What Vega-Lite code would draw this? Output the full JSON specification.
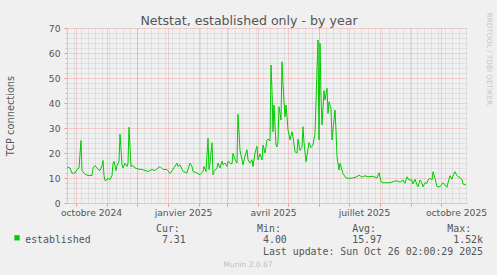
{
  "$schema": "https://vega.github.io/schema/vega-lite/v6.json",
  "width": 400,
  "height": 175,
  "autosize": {"type": "none"},
  "padding": {"left": 67, "top": 28, "right": 30, "bottom": 72},
  "background": "#f0f0f0",
  "config": {"view": {"stroke": null}, "font": "DejaVu Sans"},
  "data": {"values": [
    {"date": "2024-09-22", "value": 14.5}, {"date": "2024-09-25", "value": 14}, {"date": "2024-09-27", "value": 11.9}, {"date": "2024-09-30", "value": 12},
    {"date": "2024-10-02", "value": 13.4}, {"date": "2024-10-04", "value": 14}, {"date": "2024-10-06", "value": 25}, {"date": "2024-10-07", "value": 13},
    {"date": "2024-10-10", "value": 11.5}, {"date": "2024-10-13", "value": 11}, {"date": "2024-10-17", "value": 11}, {"date": "2024-10-18", "value": 14},
    {"date": "2024-10-20", "value": 15}, {"date": "2024-10-23", "value": 13.5}, {"date": "2024-10-25", "value": 13}, {"date": "2024-10-27", "value": 15},
    {"date": "2024-10-28", "value": 17}, {"date": "2024-10-29", "value": 11}, {"date": "2024-10-30", "value": 9}, {"date": "2024-11-01", "value": 9.3},
    {"date": "2024-11-02", "value": 10}, {"date": "2024-11-04", "value": 9.3}, {"date": "2024-11-06", "value": 11}, {"date": "2024-11-07", "value": 15.9},
    {"date": "2024-11-08", "value": 16.7}, {"date": "2024-11-10", "value": 13}, {"date": "2024-11-11", "value": 15}, {"date": "2024-11-13", "value": 16.7},
    {"date": "2024-11-14", "value": 27.6}, {"date": "2024-11-16", "value": 15.3}, {"date": "2024-11-17", "value": 14}, {"date": "2024-11-19", "value": 15.9},
    {"date": "2024-11-21", "value": 14.6}, {"date": "2024-11-22", "value": 16}, {"date": "2024-11-23", "value": 30.3}, {"date": "2024-11-25", "value": 14.6},
    {"date": "2024-11-27", "value": 15}, {"date": "2024-11-29", "value": 14}, {"date": "2024-12-02", "value": 13.6}, {"date": "2024-12-06", "value": 13.4},
    {"date": "2024-12-09", "value": 13}, {"date": "2024-12-12", "value": 12.6}, {"date": "2024-12-16", "value": 13.4}, {"date": "2024-12-19", "value": 13},
    {"date": "2024-12-22", "value": 14}, {"date": "2024-12-24", "value": 14.6}, {"date": "2024-12-27", "value": 13.4}, {"date": "2024-12-31", "value": 13.4},
    {"date": "2025-01-03", "value": 11.8}, {"date": "2025-01-06", "value": 13.4}, {"date": "2025-01-10", "value": 16}, {"date": "2025-01-11", "value": 14.6},
    {"date": "2025-01-13", "value": 15.3}, {"date": "2025-01-16", "value": 12.6}, {"date": "2025-01-20", "value": 12}, {"date": "2025-01-23", "value": 16},
    {"date": "2025-01-25", "value": 14.6}, {"date": "2025-01-26", "value": 12.6}, {"date": "2025-01-30", "value": 12}, {"date": "2025-02-02", "value": 11.3},
    {"date": "2025-02-05", "value": 12.6}, {"date": "2025-02-06", "value": 14.6}, {"date": "2025-02-08", "value": 12.6}, {"date": "2025-02-10", "value": 25.9},
    {"date": "2025-02-11", "value": 13.4}, {"date": "2025-02-12", "value": 16}, {"date": "2025-02-14", "value": 24.1}, {"date": "2025-02-15", "value": 11.3},
    {"date": "2025-02-16", "value": 12.6}, {"date": "2025-02-19", "value": 14}, {"date": "2025-02-20", "value": 16}, {"date": "2025-02-22", "value": 14},
    {"date": "2025-02-24", "value": 16.7}, {"date": "2025-02-25", "value": 15.3}, {"date": "2025-02-27", "value": 16}, {"date": "2025-03-01", "value": 14.6},
    {"date": "2025-03-02", "value": 16.7}, {"date": "2025-03-04", "value": 16}, {"date": "2025-03-06", "value": 15.6}, {"date": "2025-03-07", "value": 19.9},
    {"date": "2025-03-09", "value": 17.3}, {"date": "2025-03-11", "value": 16}, {"date": "2025-03-12", "value": 35.5}, {"date": "2025-03-14", "value": 21},
    {"date": "2025-03-16", "value": 17.3}, {"date": "2025-03-17", "value": 15.3}, {"date": "2025-03-19", "value": 18.7}, {"date": "2025-03-21", "value": 21.3},
    {"date": "2025-03-22", "value": 17.3}, {"date": "2025-03-24", "value": 16}, {"date": "2025-03-26", "value": 17.3}, {"date": "2025-03-27", "value": 14.6},
    {"date": "2025-03-29", "value": 20}, {"date": "2025-03-31", "value": 22.7}, {"date": "2025-04-01", "value": 17.3}, {"date": "2025-04-03", "value": 19.6},
    {"date": "2025-04-05", "value": 17.2}, {"date": "2025-04-06", "value": 23.2}, {"date": "2025-04-08", "value": 20}, {"date": "2025-04-10", "value": 25.2},
    {"date": "2025-04-11", "value": 25.6}, {"date": "2025-04-13", "value": 24.8}, {"date": "2025-04-14", "value": 55.2}, {"date": "2025-04-15", "value": 45},
    {"date": "2025-04-16", "value": 28.5}, {"date": "2025-04-17", "value": 39.2}, {"date": "2025-04-19", "value": 23.2}, {"date": "2025-04-20", "value": 22.4},
    {"date": "2025-04-21", "value": 24.7}, {"date": "2025-04-22", "value": 38.5}, {"date": "2025-04-24", "value": 33.2}, {"date": "2025-04-25", "value": 56.5},
    {"date": "2025-04-26", "value": 47.2}, {"date": "2025-04-28", "value": 34.5}, {"date": "2025-04-29", "value": 39.2}, {"date": "2025-04-30", "value": 34.5},
    {"date": "2025-05-01", "value": 29.2}, {"date": "2025-05-03", "value": 25.2}, {"date": "2025-05-05", "value": 28.5}, {"date": "2025-05-06", "value": 26.5},
    {"date": "2025-05-08", "value": 20.5}, {"date": "2025-05-10", "value": 20}, {"date": "2025-05-11", "value": 25.6}, {"date": "2025-05-13", "value": 21},
    {"date": "2025-05-15", "value": 22.2}, {"date": "2025-05-16", "value": 30.5}, {"date": "2025-05-17", "value": 24.2}, {"date": "2025-05-19", "value": 16.5},
    {"date": "2025-05-20", "value": 19}, {"date": "2025-05-22", "value": 24.2}, {"date": "2025-05-24", "value": 22.2}, {"date": "2025-05-26", "value": 23.2},
    {"date": "2025-05-27", "value": 25.6}, {"date": "2025-05-28", "value": 27.6}, {"date": "2025-05-30", "value": 53.2}, {"date": "2025-05-31", "value": 65.2},
    {"date": "2025-06-01", "value": 25.2}, {"date": "2025-06-02", "value": 63.9}, {"date": "2025-06-03", "value": 42.5}, {"date": "2025-06-04", "value": 31.2},
    {"date": "2025-06-06", "value": 45}, {"date": "2025-06-07", "value": 41.2}, {"date": "2025-06-09", "value": 45.9}, {"date": "2025-06-10", "value": 35.9},
    {"date": "2025-06-11", "value": 40.5}, {"date": "2025-06-13", "value": 37.9}, {"date": "2025-06-14", "value": 25.2}, {"date": "2025-06-15", "value": 29.2},
    {"date": "2025-06-17", "value": 37.2}, {"date": "2025-06-18", "value": 29.2}, {"date": "2025-06-19", "value": 18.5}, {"date": "2025-06-21", "value": 13.2},
    {"date": "2025-06-22", "value": 15.9}, {"date": "2025-06-23", "value": 14.5}, {"date": "2025-06-25", "value": 11.9}, {"date": "2025-06-27", "value": 10.5},
    {"date": "2025-06-29", "value": 9.9}, {"date": "2025-07-04", "value": 9.9}, {"date": "2025-07-09", "value": 10.5}, {"date": "2025-07-11", "value": 11.2},
    {"date": "2025-07-14", "value": 10.3}, {"date": "2025-07-17", "value": 10.9}, {"date": "2025-07-20", "value": 10.5}, {"date": "2025-07-25", "value": 10.7},
    {"date": "2025-07-29", "value": 10}, {"date": "2025-07-31", "value": 12.1}, {"date": "2025-08-02", "value": 8.5}, {"date": "2025-08-04", "value": 8.1},
    {"date": "2025-08-08", "value": 8.1}, {"date": "2025-08-11", "value": 8.1}, {"date": "2025-08-14", "value": 8.5}, {"date": "2025-08-18", "value": 8.9},
    {"date": "2025-08-21", "value": 8.3}, {"date": "2025-08-24", "value": 9.2}, {"date": "2025-08-26", "value": 7.9}, {"date": "2025-08-28", "value": 10.5},
    {"date": "2025-08-30", "value": 9.2}, {"date": "2025-09-02", "value": 9.2}, {"date": "2025-09-03", "value": 7.6}, {"date": "2025-09-05", "value": 9.5},
    {"date": "2025-09-07", "value": 7.2}, {"date": "2025-09-08", "value": 6.5}, {"date": "2025-09-10", "value": 9.2}, {"date": "2025-09-12", "value": 7.9},
    {"date": "2025-09-13", "value": 6.5}, {"date": "2025-09-15", "value": 8.1}, {"date": "2025-09-17", "value": 7.9}, {"date": "2025-09-18", "value": 9.2},
    {"date": "2025-09-20", "value": 9.9}, {"date": "2025-09-22", "value": 9.2}, {"date": "2025-09-23", "value": 12.5}, {"date": "2025-09-25", "value": 9.9},
    {"date": "2025-09-27", "value": 6.5}, {"date": "2025-09-30", "value": 6.5}, {"date": "2025-10-02", "value": 7.6}, {"date": "2025-10-03", "value": 8.1},
    {"date": "2025-10-05", "value": 7.2}, {"date": "2025-10-07", "value": 6.3}, {"date": "2025-10-08", "value": 8.1}, {"date": "2025-10-10", "value": 10.9},
    {"date": "2025-10-12", "value": 9.5}, {"date": "2025-10-13", "value": 10.9}, {"date": "2025-10-15", "value": 12.5}, {"date": "2025-10-17", "value": 10.9},
    {"date": "2025-10-18", "value": 10.5}, {"date": "2025-10-20", "value": 10.2}, {"date": "2025-10-22", "value": 9.2}, {"date": "2025-10-23", "value": 7.6},
    {"date": "2025-10-26", "value": 7.2}
  ]},
  "resolve": {"axis": {"x": "independent", "y": "independent"}},
  "layer": [
    {
      "mark": {"type": "line", "strokeOpacity": 0},
      "encoding": {
        "x": {"field": "date", "type": "temporal",
              "scale": {"domain": [{"year": 2024, "month": 9, "date": 22}, {"year": 2025, "month": 10, "date": 27}]},
              "axis": {"orient": "top", "tickCount": {"interval": "week", "step": 1}, "grid": true, "gridColor": "#000000", "gridOpacity": 0.13, "gridDash": [1, 1],
                       "ticks": false, "tickSize": 0, "labels": false, "domain": false,
                       "title": "Netstat, established only - by year", "titleFont": "DejaVu Sans", "titleFontSize": 12.6, "titleFontWeight": "normal", "titleColor": "#555555",
                       "titleX": 181.5, "titleY": -4, "titleAlign": "center", "titleBaseline": "alphabetic"}},
        "y": {"field": "value", "type": "quantitative", "scale": {"domain": [0, 70], "nice": false},
              "axis": {"orient": "left", "values": [2, 4, 6, 8, 12, 14, 16, 18, 22, 24, 26, 28, 32, 34, 36, 38, 42, 44, 46, 48, 52, 54, 56, 58, 62, 64, 66, 68],
                       "grid": true, "gridColor": "#000000", "gridOpacity": 0.13, "gridDash": [1, 1],
                       "ticks": true, "tickColor": "#c0c0c0", "tickSize": 2, "labels": false, "domain": false, "title": null}}
      }
    },
    {
      "mark": {"type": "line", "strokeWidth": 1, "interpolate": "linear"},
      "encoding": {
        "x": {"field": "date", "type": "temporal",
              "scale": {"domain": [{"year": 2024, "month": 9, "date": 22}, {"year": 2025, "month": 10, "date": 27}]},
              "axis": {"orient": "bottom", "tickCount": {"interval": "month", "step": 1}, "grid": true, "gridColor": "#ff0000", "gridOpacity": 0.3, "gridDash": [1, 1],
                       "ticks": true, "tickColor": "#f09090", "tickSize": 3, "labels": false, "domain": true, "domainColor": "#c8c8f0",
                       "title": "Munin 2.0.67", "titleFont": "DejaVu Sans", "titleFontSize": 7.5, "titleFontWeight": "normal", "titleColor": "#c0c0c0",
                       "titleX": 180.5, "titleY": 63.5, "titleAlign": "center", "titleBaseline": "alphabetic"}},
        "y": {"field": "value", "type": "quantitative", "scale": {"domain": [0, 70], "nice": false},
              "axis": {"orient": "left", "values": [0, 10, 20, 30, 40, 50, 60, 70], "grid": true, "gridColor": "#ff0000", "gridOpacity": 0.3, "gridDash": [1, 1],
                       "ticks": true, "tickColor": "#f09090", "tickSize": 3, "labels": true, "labelFont": "DejaVu Sans", "labelFontSize": 9.2, "labelColor": "#555555",
                       "labelPadding": 4, "labelBaseline": "middle", "domain": true, "domainColor": "#c8c8f0",
                       "title": "TCP connections", "titleFont": "DejaVu Sans", "titleFontSize": 9.8, "titleFontWeight": "normal", "titleColor": "#555555",
                       "titleAngle": -90, "titleX": -51.5, "titleY": 87.5, "titleAlign": "center", "titleBaseline": "bottom"}},
        "color": {"datum": "established", "type": "nominal", "scale": {"range": ["#00cc00"]},
                  "legend": {"orient": "none", "legendX": -53, "legendY": 206.8, "title": null, "symbolType": "square", "symbolSize": 28,
                             "labelExpr": "''", "labelFontSize": 1, "labelOffset": 0, "padding": 0,
                             "encode": {"symbols": {"update": {"fill": {"value": "#00cc00"}, "stroke": {"value": "#00cc00"}, "strokeWidth": {"value": 0}}}}}}
      }
    },
    {
      "mark": {"type": "line", "strokeOpacity": 0},
      "encoding": {
        "x": {"field": "date", "type": "temporal",
              "scale": {"domain": [{"year": 2024, "month": 9, "date": 22}, {"year": 2025, "month": 10, "date": 27}]},
              "axis": {"orient": "bottom",
                       "values": [{"year": 2024, "month": 10, "date": 16}, {"year": 2025, "month": 1, "date": 16}, {"year": 2025, "month": 4, "date": 16}, {"year": 2025, "month": 7, "date": 16}, {"year": 2025, "month": 10, "date": 16}],
                       "labelExpr": "['janvier','février','mars','avril','mai','juin','juillet','août','septembre','octobre','novembre','décembre'][month(datum.value)] + ' ' + year(datum.value)",
                       "grid": false, "ticks": false, "tickSize": 0, "domain": false,
                       "labelFont": "DejaVu Sans", "labelFontSize": 9.2, "labelColor": "#555555", "labelPadding": 12, "labelBaseline": "alphabetic",
                       "labelFlush": false, "labelOverlap": false, "labelBound": false,
                       "title": [
                         "\u200b\u00a0\u00a0\u00a0\u00a0\u00a0\u00a0\u00a0\u00a0\u00a0\u00a0\u00a0\u00a0\u00a0\u00a0\u00a0\u00a0\u00a0\u00a0\u00a0\u00a0\u00a0\u00a0Cur:\u00a0\u00a0\u00a0\u00a0\u00a0\u00a0\u00a0\u00a0\u00a0\u00a0\u00a0\u00a0\u00a0Min:\u00a0\u00a0\u00a0\u00a0\u00a0\u00a0\u00a0\u00a0\u00a0\u00a0\u00a0\u00a0Avg:\u00a0\u00a0\u00a0\u00a0\u00a0\u00a0\u00a0\u00a0\u00a0\u00a0\u00a0\u00a0Max:",
                         "established\u00a0\u00a0\u00a0\u00a0\u00a0\u00a0\u00a0\u00a0\u00a0\u00a0\u00a0\u00a07.31\u00a0\u00a0\u00a0\u00a0\u00a0\u00a0\u00a0\u00a0\u00a0\u00a0\u00a0\u00a0\u00a04.00\u00a0\u00a0\u00a0\u00a0\u00a0\u00a0\u00a0\u00a0\u00a0\u00a0\u00a015.97\u00a0\u00a0\u00a0\u00a0\u00a0\u00a0\u00a0\u00a0\u00a0\u00a0\u00a0\u00a01.52k",
                         "\u200b\u00a0\u00a0\u00a0\u00a0\u00a0\u00a0\u00a0\u00a0\u00a0\u00a0\u00a0\u00a0\u00a0\u00a0\u00a0\u00a0\u00a0\u00a0\u00a0\u00a0\u00a0\u00a0\u00a0\u00a0\u00a0\u00a0\u00a0\u00a0\u00a0\u00a0\u00a0\u00a0\u00a0\u00a0\u00a0\u00a0\u00a0\u00a0\u00a0\u00a0Last update: Sun Oct 26 02:00:29 2025"
                       ],
                       "titleFont": "DejaVu Sans Mono", "titleFontSize": 9.88, "titleFontWeight": "normal", "titleColor": "#555555",
                       "titleX": -42.3, "titleY": 28.3, "titleAlign": "left", "titleAnchor": "start", "titleBaseline": "alphabetic", "titleLineHeight": 11.6}},
        "y": {"field": "value", "type": "quantitative", "scale": {"domain": [0, 70], "nice": false},
              "axis": {"orient": "right", "labels": false, "ticks": false, "grid": false, "domain": false,
                       "title": "RRDTOOL / TOBI OETIKER", "titleFont": "DejaVu Sans", "titleFontSize": 7.2, "titleFontWeight": "normal", "titleColor": "#c8c8c8",
                       "titleAngle": 90, "titleX": 21, "titleY": 30.5, "titleAlign": "center", "titleBaseline": "middle"}}
      }
    }
  ]
}
